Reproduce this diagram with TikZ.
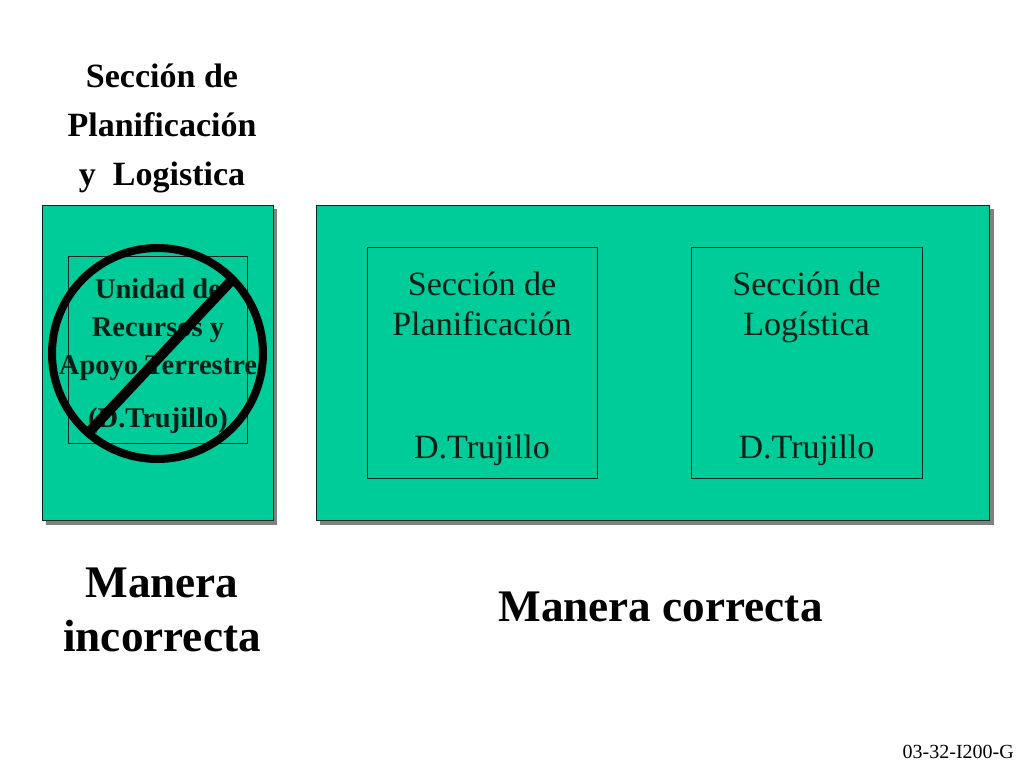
\documentclass[tikz,border=0pt]{standalone}
\usepackage{fontspec}
\setmainfont{Liberation Serif}
\definecolor{grn}{HTML}{00CC99}
\definecolor{shd}{HTML}{808080}
\definecolor{dk}{HTML}{002A20}
\definecolor{tx}{HTML}{001F17}
\tikzset{x=1pt,y=-1pt,
 panel/.style={draw=dk,line width=0.8pt,fill=grn,rectangle,anchor=north west,inner sep=0pt},
 shadow/.style={fill=shd,draw=none,rectangle,anchor=north west,inner sep=0pt},
 inbox/.style={draw=dk,line width=0.6pt,rectangle,anchor=north west,inner sep=0pt},
 lbl/.style={anchor=base,inner sep=0pt,align=center},
 ttl/.style={lbl,font=\bfseries\fontsize{34}{34}\selectfont},
 unit/.style={lbl,text=tx,font=\bfseries\fontsize{28.5}{28.5}\selectfont},
 sec/.style={lbl,text=tx,font=\fontsize{34}{34}\selectfont},
 big/.style={lbl,font=\bfseries\fontsize{45.2}{45.2}\selectfont}}
\begin{document}
\begin{tikzpicture}
\useasboundingbox (0,0) rectangle (1024,768);
\node[shadow,minimum width=231pt,minimum height=316pt] (s1) at (45.5,208.5) {};
\node[shadow,minimum width=674pt,minimum height=316pt] (s2) at (319.5,208.5) {};
\node[panel,minimum width=230.5pt,minimum height=315.5pt] (p1) at (42,204.7) {};
\node[panel,minimum width=673.5pt,minimum height=315.5pt] (p2) at (315.7,204.7) {};
\node[inbox,minimum width=179pt,minimum height=187.5pt] (b1) at (68,255.8) {};
\node[inbox,minimum width=230pt,minimum height=231pt] (b2) at (367,247) {};
\node[inbox,minimum width=231pt,minimum height=231pt] (b3) at (691,247) {};
\node[ttl] (t1) at (162,87) {Sección de};
\node[ttl] (t2) at (162,136.5) {Planificación};
\node[ttl] (t3) at (162,185.5) {y\ \ Logistica};
\node[unit] (u1) at (158,298.5) {Unidad de};
\node[unit] (u2) at (158,336.5) {Recursos y};
\node[unit] (u3) at (158,374.5) {Apoyo Terrestre};
\node[unit] (u4) at (158,427.5) {(D.Trujillo)};
\node[draw=black,line width=8pt,circle,minimum size=211pt,inner sep=0pt] (no) at (157.5,353.5) {};
\coordinate (na) at (230,282);
\coordinate (nb) at (89,432);
\draw[line width=10pt] (na) -- (nb);
\node[sec] (a1) at (482,295) {Sección de};
\node[sec] (a2) at (482,335.5) {Planificación};
\node[sec] (a3) at (482,458.5) {D.Trujillo};
\node[sec] (c1) at (806.5,295) {Sección de};
\node[sec] (c2) at (806.5,335.5) {Logística};
\node[sec] (c3) at (806.5,458.5) {D.Trujillo};
\node[big] (m1) at (162,597) {Manera};
\node[big] (m2) at (162,651) {incorrecta};
\node[big] (m3) at (660.5,621) {Manera correcta};
\node[lbl,anchor=base east,font=\fontsize{20}{20}\selectfont] (code) at (1014,758) {03-32-I200-G};
\end{tikzpicture}
\end{document}
